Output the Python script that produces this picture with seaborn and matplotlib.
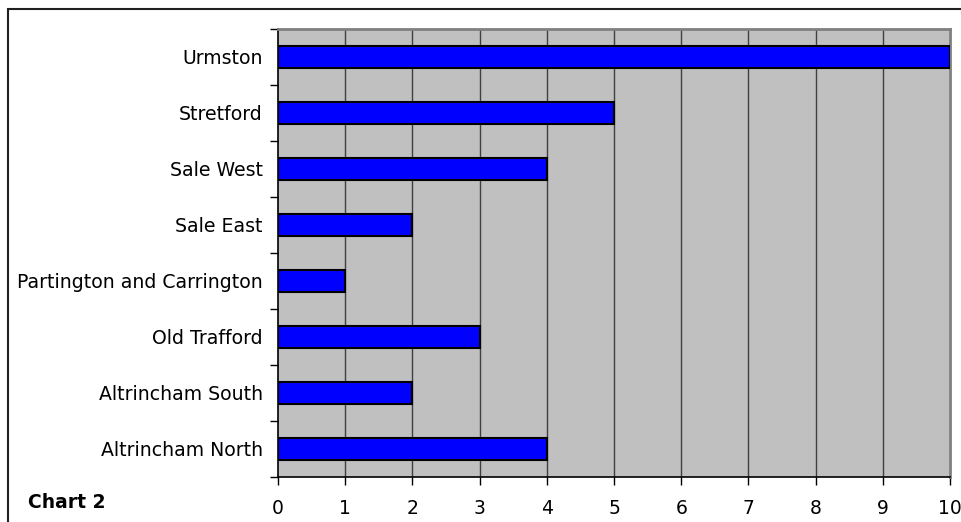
import pandas as pd
import matplotlib
matplotlib.use('Agg')
import matplotlib.pyplot as plt
import matplotlib.patches as patches
import seaborn as sns
import numpy as np

wards = ['Urmston', 'Stretford', 'Sale West', 'Sale East',
         'Partington and Carrington', 'Old Trafford',
         'Altrincham South', 'Altrincham North']
contagens = [10, 5, 4, 2, 1, 3, 2, 4]
x_ticks = [0, 1, 2, 3, 4, 5, 6, 7, 8, 9, 10]

dados = pd.DataFrame({'ward': wards, 'valor': contagens})

sns.set_style('white')
plt.rcParams['font.family'] = ['DejaVu Sans']
plt.rcParams['text.color'] = 'black'
plt.rcParams['xtick.color'] = 'black'
plt.rcParams['ytick.color'] = 'black'

fig = plt.figure(figsize=(9.61, 5.22), dpi=100)
ax = fig.add_axes([278 / 961, 45 / 522, 672 / 961, 448 / 522])
ax.set_facecolor('#C0C0C0')

# grade vertical
for v in x_ticks[1:-1]:
    ax.axvline(v, color='#404040', lw=1, zorder=1)

sns.barplot(data=dados, x='valor', y='ward', orient='h', color='#0000FF',
            saturation=1, width=0.39, edgecolor='black', linewidth=1.5,
            ax=ax, zorder=3)

ax.set_xlim(0, 10)
ax.set_ylim(7.5, -0.5)
ax.set_xticks(x_ticks)
ax.set_xticklabels([str(t) for t in x_ticks], fontsize=13.5)
ax.set_yticks(np.arange(len(wards)))
ax.set_yticklabels(wards, fontsize=13.6)
ax.set_yticks(np.arange(-0.5, len(wards), 1), minor=True)
ax.tick_params(axis='y', which='major', left=False, length=0, pad=11)
ax.tick_params(axis='y', which='minor', left=True, length=6, width=1, direction='out')
ax.tick_params(axis='x', which='major', bottom=True, length=6, width=1, direction='out', pad=10)
ax.set_xlabel('')
ax.set_ylabel('')

for s in ['left', 'bottom']:
    ax.spines[s].set_color('black')
    ax.spines[s].set_linewidth(1.2)
for s in ['top', 'right']:
    ax.spines[s].set_color('#808080')
    ax.spines[s].set_linewidth(2)

fig.text(28 / 961, 1 - 502 / 522, 'Chart 2', fontsize=13.5, fontweight='bold', va='center')

# moldura externa
fig.patches.append(patches.Rectangle((8 / 961, -0.05), 1.0, 1 - 9 / 522 + 0.05,
                                     transform=fig.transFigure, fill=False,
                                     edgecolor='#202020', lw=1.5))

fig.savefig('out.png', dpi=100)
